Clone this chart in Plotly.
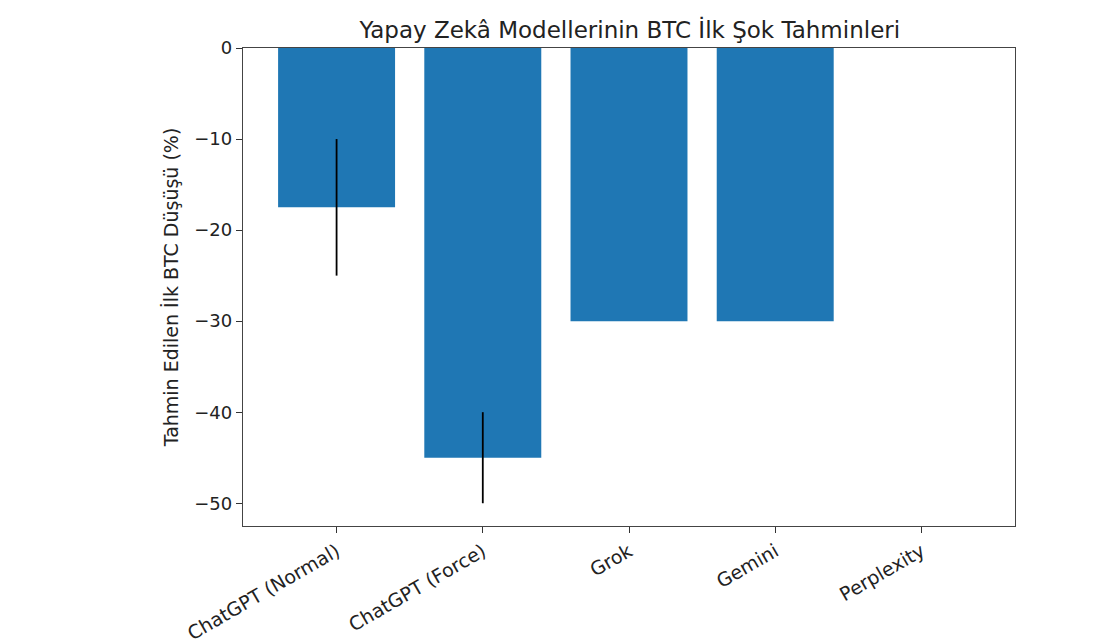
import plotly.graph_objects as go

models = ["ChatGPT (Normal)", "ChatGPT (Force)", "Grok", "Gemini", "Perplexity"]
drops = [-17.5, -45, -30, -30, None]
errors = [7.5, 5, 0, 0, 0]
ytick_vals = [0, -10, -20, -30, -40, -50]
ytick_text = ["0", "−10", "−20", "−30", "−40", "−50"]

title = "Yapay Zekâ Modellerinin BTC İlk Şok Tahminleri"
ylabel = "Tahmin Edilen İlk BTC Düşüşü (%)"

fig = go.Figure()
fig.add_trace(go.Bar(
    x=list(range(len(models))), y=drops,
    marker=dict(color="#1f77b4", line=dict(width=0)),
    width=0.8,
    error_y=dict(type="data", array=errors, visible=True,
                 color="black", thickness=1.8, width=0),
))

font = "DejaVu Sans, sans-serif"
fig.update_layout(
    width=1100, height=644,
    paper_bgcolor="white", plot_bgcolor="white",
    margin=dict(l=243, r=85, t=48, b=118, autoexpand=False),
    showlegend=False,
    font=dict(family=font, size=18, color="#222"),
    title=dict(text=title, x=0.5725, xanchor="center", y=0.953, yanchor="middle",
               font=dict(family=font, size=23, color="#222")),
)
fig.update_xaxes(
    range=[-0.64, 4.64],
    tickvals=list(range(len(models))), ticktext=models,
    tickangle=-30, ticks="outside", ticklen=6, tickcolor="#333",
    showline=True, linecolor="#444", linewidth=1.4, mirror=True,
    showgrid=False, zeroline=False, automargin=False,
    tickfont=dict(size=19),
)
fig.update_yaxes(
    range=[-52.5, 0],
    tickvals=ytick_vals, ticktext=ytick_text,
    ticks="outside", ticklen=6, tickcolor="#333",
    showline=True, linecolor="#444", linewidth=1.4, mirror=True,
    showgrid=False, zeroline=False, automargin=False,
    tickfont=dict(size=18),
    title=dict(text=ylabel, font=dict(size=19), standoff=10),
)

fig.write_html("out.html")
